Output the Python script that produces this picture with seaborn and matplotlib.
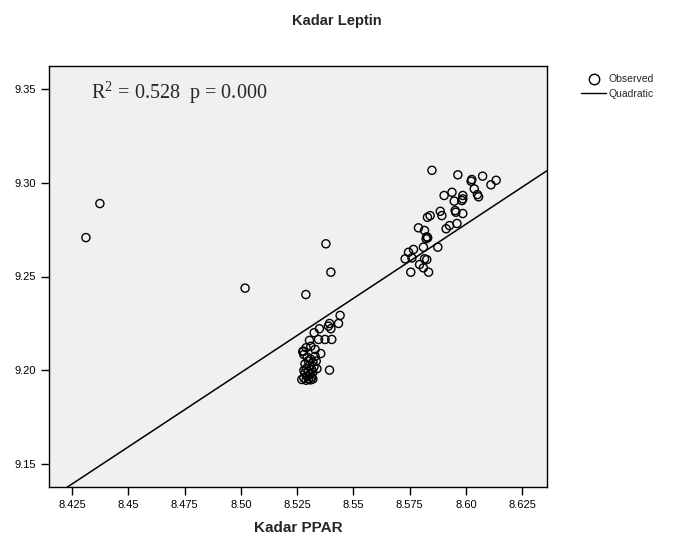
import numpy as np
import pandas as pd
import seaborn as sns
from matplotlib import pyplot as plt
from matplotlib.lines import Line2D

# observed points (Kadar PPAR, Kadar Leptin)
ppar = [8.4312, 8.4374, 8.5019, 8.5289, 8.5378, 8.5400,
        # lower cluster
        8.5441, 8.5434, 8.5394, 8.5389, 8.5400, 8.5349, 8.5326, 8.5404, 8.5374, 8.5345,
        8.5305, 8.5290, 8.5311, 8.5278, 8.5330, 8.5355, 8.5394, 8.5338, 8.5271,
        8.5280, 8.5295, 8.5310, 8.5300, 8.5320, 8.5285, 8.5305, 8.5325, 8.5290, 8.5315,
        8.5280, 8.5300, 8.5320, 8.5285, 8.5305, 8.5295, 8.5315, 8.5280, 8.5300, 8.5320,
        8.5290, 8.5310, 8.5330, 8.5335, 8.5275,
        # upper cluster
        8.5849, 8.5964, 8.6026, 8.6023, 8.6074, 8.6134, 8.6111, 8.6037, 8.6051, 8.6056,
        8.5903, 8.5938, 8.5948, 8.5986, 8.5986, 8.5982, 8.5886, 8.5893, 8.5829, 8.5841,
        8.5952, 8.5955, 8.5986, 8.5789, 8.5816, 8.5912, 8.5927, 8.5960, 8.5826, 8.5830,
        8.5823, 8.5811, 8.5875, 8.5745, 8.5767, 8.5730, 8.5760, 8.5816, 8.5826, 8.5794,
        8.5811, 8.5755, 8.5834]
leptin = [9.2707, 9.2888, 9.2438, 9.2404, 9.2674, 9.2523,
          9.2293, 9.2250, 9.2250, 9.2236, 9.2222, 9.2222, 9.2201, 9.2165, 9.2165, 9.2165,
          9.2160, 9.2121, 9.2129, 9.2103, 9.2112, 9.2090, 9.2002, 9.2009, 9.1952,
          9.2085, 9.2070, 9.2060, 9.2050, 9.2045, 9.2035, 9.2025, 9.2020, 9.2010, 9.2005,
          9.2000, 9.1995, 9.1990, 9.1985, 9.1978, 9.1970, 9.1965, 9.1960, 9.1955, 9.1955,
          9.1948, 9.1950, 9.2075, 9.2050, 9.2100,
          9.3065, 9.3041, 9.3016, 9.3007, 9.3034, 9.3012, 9.2988, 9.2966, 9.2936, 9.2924,
          9.2931, 9.2948, 9.2901, 9.2931, 9.2913, 9.2904, 9.2847, 9.2824, 9.2815, 9.2824,
          9.2851, 9.2842, 9.2835, 9.2759, 9.2745, 9.2754, 9.2771, 9.2782, 9.2711, 9.2706,
          9.2701, 9.2656, 9.2656, 9.2629, 9.2644, 9.2594, 9.2599, 9.2594, 9.2590, 9.2564,
          9.2546, 9.2523, 9.2523]

# fitted (quadratic) line as drawn
fit_x = [8.4148, 8.5174, 8.6360]
fit_y = [9.1315, 9.2126, 9.3063]

x_ticks = [8.425, 8.45, 8.475, 8.50, 8.525, 8.55, 8.575, 8.60, 8.625]
x_ticklabels = ["8.425", "8.45", "8.475", "8.50", "8.525", "8.55", "8.575", "8.60", "8.625"]
y_ticks = [9.15, 9.20, 9.25, 9.30, 9.35]
y_ticklabels = ["9.15", "9.20", "9.25", "9.30", "9.35"]

df = pd.DataFrame({"ppar": ppar, "leptin": leptin})
fit = pd.DataFrame({"x": fit_x, "y": fit_y})

sns.set_style("white")
plt.rcParams['font.family'] = ['Liberation Sans', 'DejaVu Sans']
plt.rcParams['mathtext.fontset'] = 'stix'

fig = plt.figure(figsize=(6.73, 5.42), dpi=100)
ax = fig.add_axes([49/673, 55/542, 498/673, 421/542])
ax.set_facecolor("#f0f0f0")

sns.scatterplot(data=df, x="ppar", y="leptin", ax=ax, s=34, marker="o",
                facecolor="none", edgecolor="black", linewidth=1.0, zorder=3)
sns.lineplot(data=fit, x="x", y="y", ax=ax, color="black", linewidth=1.1,
             zorder=2, estimator=None, sort=False)

ax.set_xlim(8.4148, 8.636)
ax.set_ylim(9.138, 9.362)
ax.set_xticks(x_ticks)
ax.set_xticklabels(x_ticklabels)
ax.set_yticks(y_ticks)
ax.set_yticklabels(y_ticklabels)
ax.tick_params(axis="both", direction="out", length=6, width=1, labelsize=8,
               colors="black", bottom=True, left=True)
for sp in ax.spines.values():
    sp.set_color("black")
    sp.set_linewidth(1.0)

ax.set_xlabel("Kadar PPAR", fontsize=11, fontweight="bold", labelpad=8)
ax.set_ylabel("")

ax.text(0.084, 0.936, r"R$^{\mathregular{2}}$ = 0.528  p = 0.000", transform=ax.transAxes,
        fontsize=14.5, family="Liberation Serif", va="center", ha="left")

fig.text(0.5, 1 - 21/542, "Kadar Leptin", ha="center", va="center",
         fontsize=10.5, fontweight="bold")

handles = [Line2D([], [], marker="o", linestyle="none", markerfacecolor="none",
                  markeredgecolor="black", markersize=7.5, markeredgewidth=1.0),
           Line2D([], [], color="black", linewidth=1.0)]
ax.legend(handles, ["Observed", "Quadratic"], loc="upper left",
          bbox_to_anchor=(1.06, 0.99), frameon=False, fontsize=7.5,
          handlelength=2.4, handletextpad=0.2, labelspacing=0.4, borderaxespad=0)

fig.savefig("out.png", dpi=100)
